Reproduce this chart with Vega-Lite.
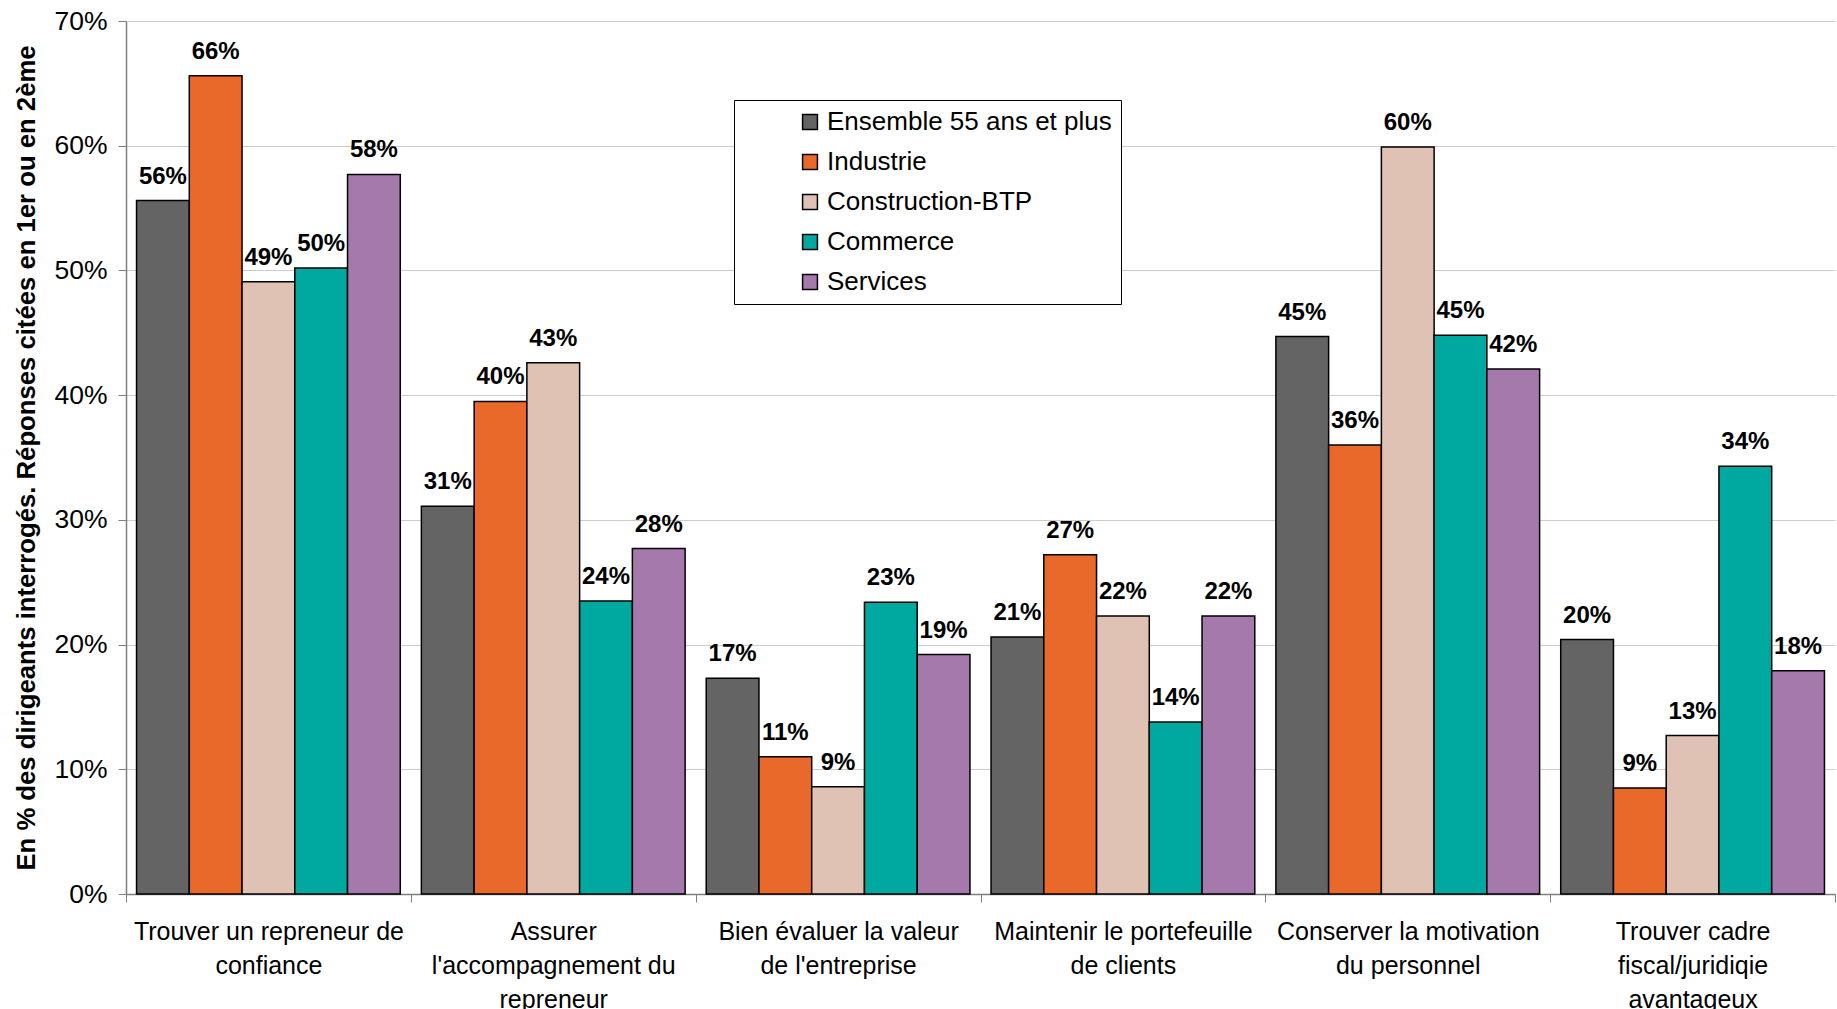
{
  "$schema": "https://vega.github.io/schema/vega-lite/v6.json",
  "width": 1709,
  "height": 873,
  "autosize": {"type": "none"},
  "padding": {"left": 126, "top": 21, "right": 2, "bottom": 115},
  "background": "white",
  "config": {"view": {"stroke": null}, "font": "Liberation Sans"},
  "data": {
    "values": [
      {"cat": "Trouver un repreneur de confiance", "serie": "Ensemble 55 ans et plus", "v": 0.556},
      {"cat": "Trouver un repreneur de confiance", "serie": "Industrie", "v": 0.656},
      {"cat": "Trouver un repreneur de confiance", "serie": "Construction-BTP", "v": 0.491},
      {"cat": "Trouver un repreneur de confiance", "serie": "Commerce", "v": 0.502},
      {"cat": "Trouver un repreneur de confiance", "serie": "Services", "v": 0.577},
      {"cat": "Assurer l'accompagnement du repreneur", "serie": "Ensemble 55 ans et plus", "v": 0.311},
      {"cat": "Assurer l'accompagnement du repreneur", "serie": "Industrie", "v": 0.395},
      {"cat": "Assurer l'accompagnement du repreneur", "serie": "Construction-BTP", "v": 0.426},
      {"cat": "Assurer l'accompagnement du repreneur", "serie": "Commerce", "v": 0.235},
      {"cat": "Assurer l'accompagnement du repreneur", "serie": "Services", "v": 0.277},
      {"cat": "Bien évaluer la valeur de l'entreprise", "serie": "Ensemble 55 ans et plus", "v": 0.173},
      {"cat": "Bien évaluer la valeur de l'entreprise", "serie": "Industrie", "v": 0.110},
      {"cat": "Bien évaluer la valeur de l'entreprise", "serie": "Construction-BTP", "v": 0.086},
      {"cat": "Bien évaluer la valeur de l'entreprise", "serie": "Commerce", "v": 0.234},
      {"cat": "Bien évaluer la valeur de l'entreprise", "serie": "Services", "v": 0.192},
      {"cat": "Maintenir le portefeuille de clients", "serie": "Ensemble 55 ans et plus", "v": 0.206},
      {"cat": "Maintenir le portefeuille de clients", "serie": "Industrie", "v": 0.272},
      {"cat": "Maintenir le portefeuille de clients", "serie": "Construction-BTP", "v": 0.223},
      {"cat": "Maintenir le portefeuille de clients", "serie": "Commerce", "v": 0.138},
      {"cat": "Maintenir le portefeuille de clients", "serie": "Services", "v": 0.223},
      {"cat": "Conserver la motivation du personnel", "serie": "Ensemble 55 ans et plus", "v": 0.447},
      {"cat": "Conserver la motivation du personnel", "serie": "Industrie", "v": 0.360},
      {"cat": "Conserver la motivation du personnel", "serie": "Construction-BTP", "v": 0.599},
      {"cat": "Conserver la motivation du personnel", "serie": "Commerce", "v": 0.448},
      {"cat": "Conserver la motivation du personnel", "serie": "Services", "v": 0.421},
      {"cat": "Trouver cadre fiscal/juridiqie avantageux", "serie": "Ensemble 55 ans et plus", "v": 0.204},
      {"cat": "Trouver cadre fiscal/juridiqie avantageux", "serie": "Industrie", "v": 0.085},
      {"cat": "Trouver cadre fiscal/juridiqie avantageux", "serie": "Construction-BTP", "v": 0.127},
      {"cat": "Trouver cadre fiscal/juridiqie avantageux", "serie": "Commerce", "v": 0.343},
      {"cat": "Trouver cadre fiscal/juridiqie avantageux", "serie": "Services", "v": 0.179}
    ]
  },
  "encoding": {
    "x": {
      "field": "cat",
      "type": "nominal",
      "sort": null,
      "scale": {"paddingInner": 0, "paddingOuter": 0},
      "axis": {
        "title": null,
        "labelAngle": 0,
        "labelFont": "Liberation Sans",
        "labelFontSize": 25,
        "labelColor": "black",
        "labelLineHeight": 34,
        "labelBaseline": "top",
        "labelPadding": 17,
        "labelLimit": 400,
        "tickBand": "extent",
        "tickSize": 8,
        "tickColor": "#7f7f7f",
        "domainColor": "#7f7f7f",
        "domainWidth": 1.5,
        "grid": false,
        "labelExpr": "!isString(datum.value) ? '' : indexof(datum.value,'Trouver un')==0 ? ['Trouver un repreneur de','confiance'] : indexof(datum.value,'Assurer')==0 ? ['Assurer',\"l'accompagnement du\",'repreneur'] : indexof(datum.value,'Bien')==0 ? ['Bien évaluer la valeur',\"de l'entreprise\"] : indexof(datum.value,'Maintenir')==0 ? ['Maintenir le portefeuille','de clients'] : indexof(datum.value,'Conserver')==0 ? ['Conserver la motivation','du personnel'] : ['Trouver cadre','fiscal/juridiqie','avantageux']"
      }
    },
    "xOffset": {
      "field": "serie",
      "type": "nominal",
      "sort": ["Ensemble 55 ans et plus", "Industrie", "Construction-BTP", "Commerce", "Services"],
      "scale": {"paddingInner": 0, "paddingOuter": 0.2}
    },
    "y": {
      "field": "v",
      "type": "quantitative",
      "scale": {"domain": [0, 0.7]},
      "axis": {
        "values": [0, 0.1, 0.2, 0.3, 0.4, 0.5, 0.6, 0.7],
        "format": ".0%",
        "labelFontSize": 26.5,
        "labelColor": "black",
        "labelPadding": 11,
        "tickSize": 8,
        "tickColor": "#7f7f7f",
        "domainColor": "#7f7f7f",
        "domainWidth": 1.5,
        "grid": true,
        "gridColor": "#cccccc",
        "gridWidth": 1,
        "title": "En % des dirigeants interrogés. Réponses citées en 1er ou en 2ème",
        "titleFont": "Liberation Sans",
        "titleFontSize": 25.7,
        "titleFontWeight": "bold",
        "titleColor": "black",
        "titleX": -100,
        "titleBaseline": "middle"
      }
    }
  },
  "layer": [
    {
      "mark": {"type": "bar", "stroke": "black", "strokeWidth": 1.5},
      "encoding": {
        "color": {
          "field": "serie",
          "type": "nominal",
          "sort": ["Ensemble 55 ans et plus", "Industrie", "Construction-BTP", "Commerce", "Services"],
          "scale": {
            "domain": ["Ensemble 55 ans et plus", "Industrie", "Construction-BTP", "Commerce", "Services"],
            "range": ["#646464", "#E8692A", "#DFC2B4", "#00A99F", "#A679AC"]
          },
          "legend": {
            "orient": "none",
            "legendX": 608,
            "legendY": 79,
            "title": null,
            "symbolType": "square",
            "symbolSize": 220,
            "symbolStrokeColor": "black",
            "symbolStrokeWidth": 1.5,
            "symbolOffset": 54,
            "labelFontSize": 26,
            "labelColor": "black",
            "labelOffset": 4,
            "labelLimit": 600,
            "rowPadding": 14,
            "padding": 9,
            "strokeColor": "black",
            "fillColor": "white",
            "labelExpr": "datum.label + '\u00a0\u00a0\u00a0\u00a0\u00a0\u00a0\u00a0\u00a0'"
          }
        }
      }
    },
    {
      "mark": {"type": "text", "dy": -17, "baseline": "alphabetic", "fontWeight": "bold", "fontSize": 24, "color": "black"},
      "encoding": {"text": {"field": "v", "type": "quantitative", "format": ".0%"}}
    }
  ]
}
